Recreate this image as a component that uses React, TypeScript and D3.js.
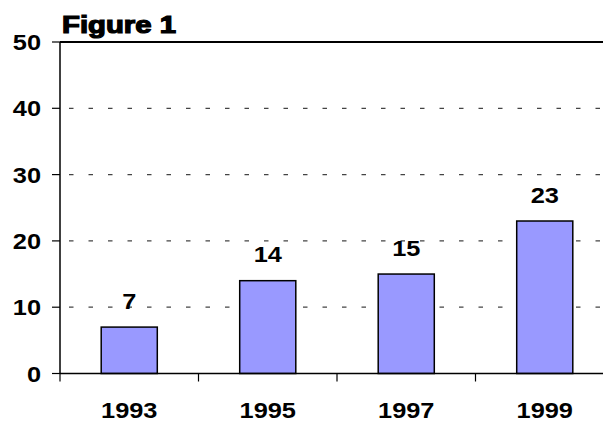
import React from "react";
import * as d3 from "d3";

const categories = ["1993", "1995", "1997", "1999"];
const values = [7, 14, 15, 23];
const yTicks = [0, 10, 20, 30, 40, 50];
const title = "Figure 1";

const W = 603;
const H = 422;
const left = 60;
const right = 614;
const top = 42;
const bottom = 373.5;
const SX = 1.18;

function SText(props: { x: number; y: number; anchor: string; children: React.ReactNode; size?: number }) {
  return (
    <text
      transform={`translate(${props.x},${props.y}) scale(${SX},1)`}
      textAnchor={props.anchor}
      fontSize={props.size ?? 21.5}
      fontWeight="bold"
    >
      {props.children}
    </text>
  );
}

export default function App() {
  const x = d3.scaleBand<string>().domain(categories).range([left, right]).padding(0);
  const y = d3.scaleLinear().domain([0, 50]).range([bottom, top]);
  const bw = x.bandwidth() * 0.405;
  const font = "'Liberation Sans', Arial, sans-serif";
  const tickXs = [...categories.map((c) => x(c) as number), right];

  return (
    <svg
      width={W}
      height={H}
      style={{ position: "absolute", left: 0, top: 0, background: "#fff" }}
      fontFamily={font}
    >
      {/* gridlines */}
      {yTicks
        .filter((t) => t > 0 && t < 50)
        .map((t) => (
          <line
            key={t}
            x1={left}
            x2={W}
            y1={y(t)}
            y2={y(t)}
            stroke="#444"
            strokeWidth={1.2}
            strokeDasharray="4.5,15"
            strokeDashoffset={-9}
          />
        ))}
      {/* top border */}
      <line x1={left} x2={W} y1={y(50)} y2={y(50)} stroke="#000" strokeWidth={1.8} />
      {/* bars */}
      {categories.map((c, i) => {
        const cx = (x(c) as number) + x.bandwidth() / 2;
        return (
          <g key={c}>
            <rect
              x={cx - bw / 2}
              y={y(values[i])}
              width={bw}
              height={bottom - y(values[i])}
              fill="#9999FF"
              stroke="#000"
              strokeWidth={1.5}
            />
            <SText x={cx} y={y(values[i]) - 18.5} anchor="middle">
              {values[i]}
            </SText>
            <SText x={cx} y={418} anchor="middle">
              {c}
            </SText>
          </g>
        );
      })}
      {/* axes */}
      <line x1={left} x2={left} y1={top} y2={bottom} stroke="#000" strokeWidth={1.5} />
      <line x1={left} x2={W} y1={bottom} y2={bottom} stroke="#000" strokeWidth={1.5} />
      {yTicks.map((t) => (
        <g key={t}>
          <line x1={left - 8} x2={left} y1={y(t)} y2={y(t)} stroke="#000" strokeWidth={1.2} />
          <SText x={41} y={y(t) + 8} anchor="end">
            {t}
          </SText>
        </g>
      ))}
      {tickXs.map((tx, i) => (
        <line key={i} x1={tx} x2={tx} y1={bottom} y2={bottom + 8} stroke="#000" strokeWidth={1.2} />
      ))}
      {/* title */}
      <text
        x={62}
        y={32.5}
        fontSize={23}
        fontWeight="bold"
        stroke="#000"
        strokeWidth={1.2}
        textLength={114}
        lengthAdjust="spacingAndGlyphs"
      >
        {title}
      </text>
    </svg>
  );
}
